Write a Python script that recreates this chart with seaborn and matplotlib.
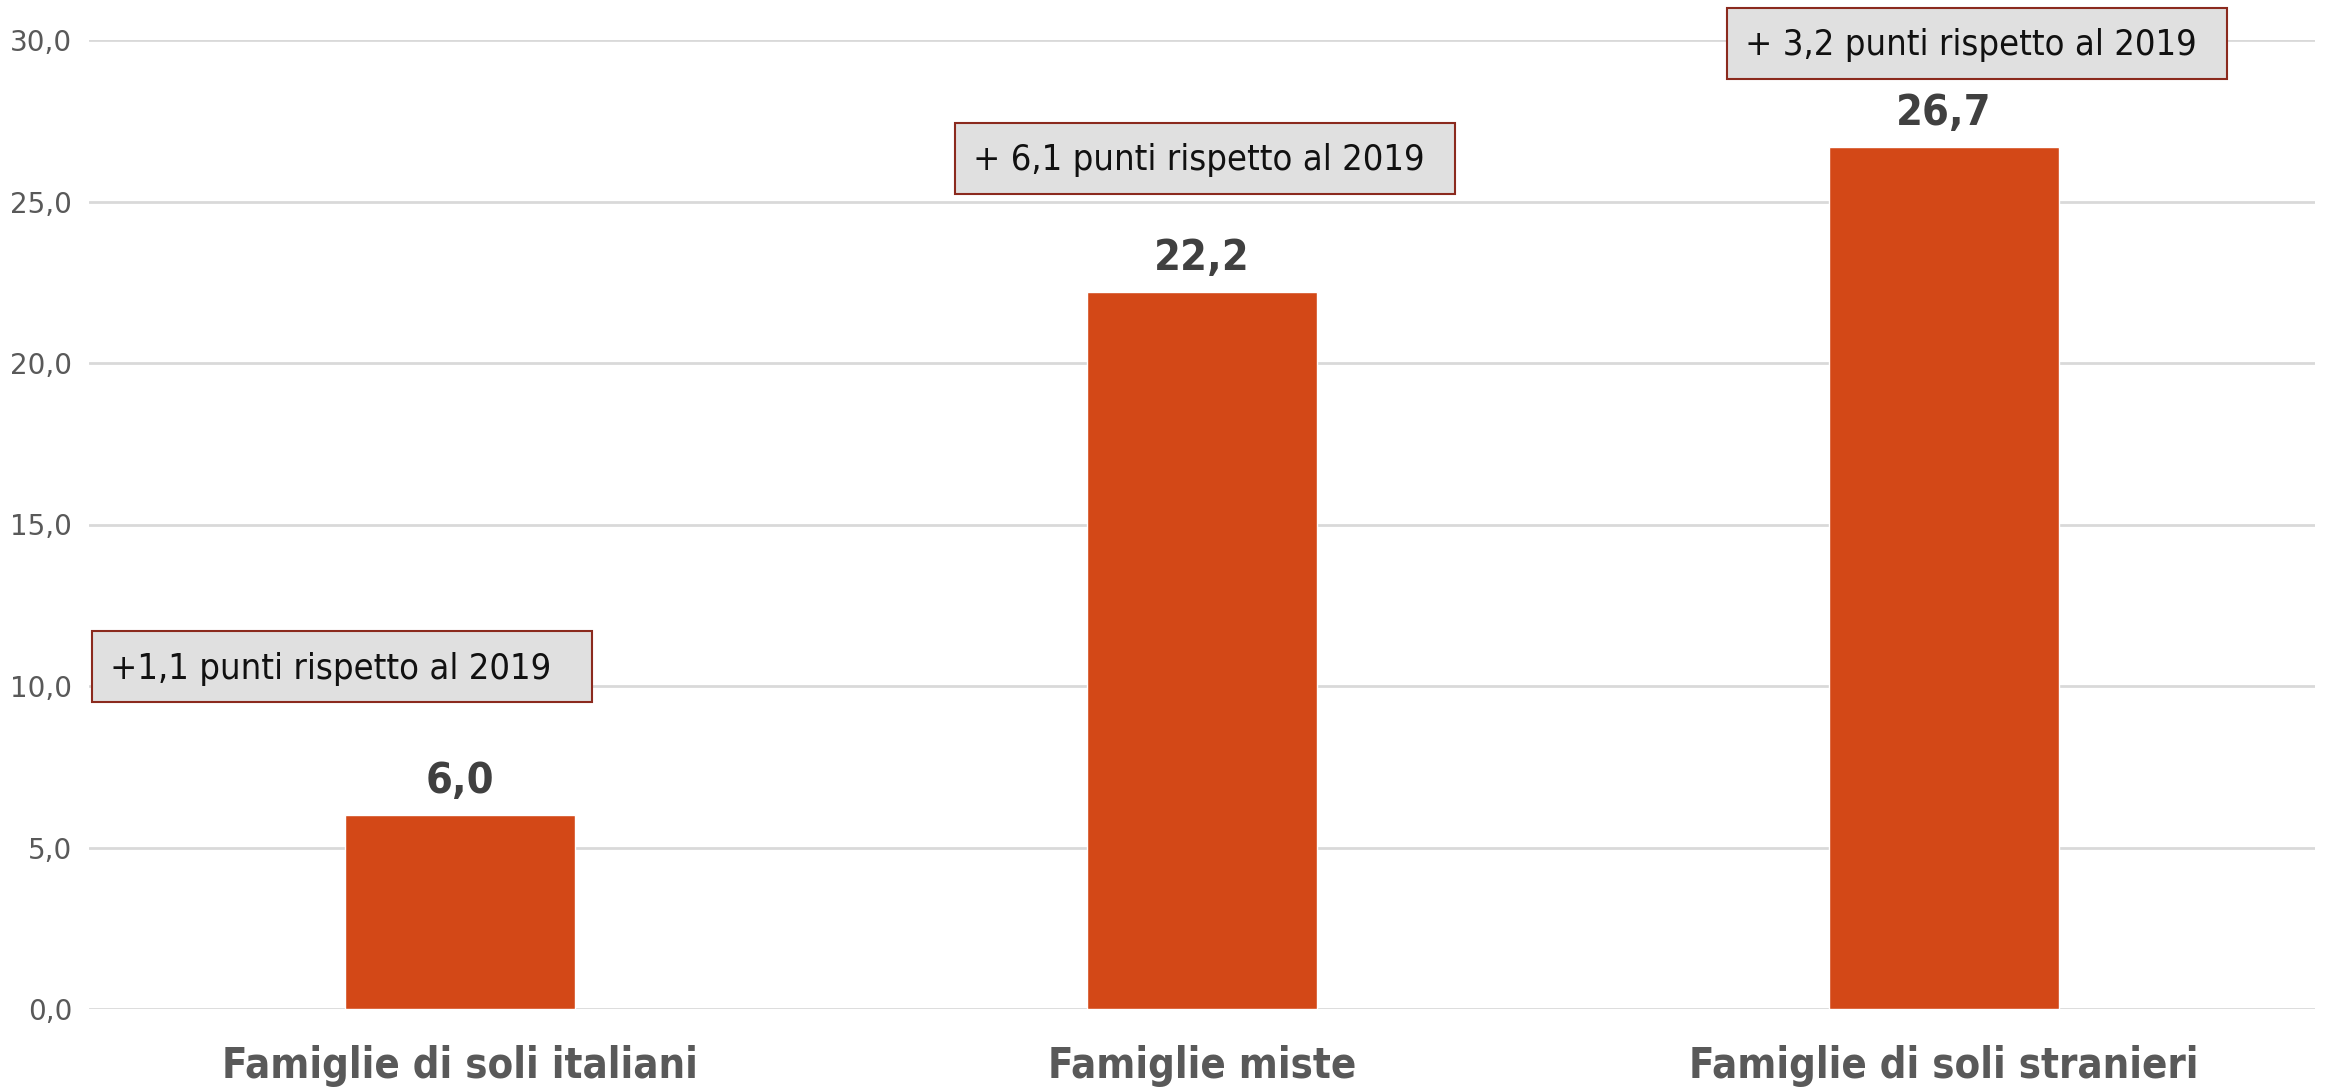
import matplotlib
matplotlib.use("Agg")
import matplotlib.pyplot as plt
import pandas as pd
import seaborn as sns
from matplotlib.patches import Rectangle
from matplotlib.ticker import FuncFormatter

# data
categories = ["Famiglie di soli italiani", "Famiglie miste", "Famiglie di soli stranieri"]
values = [6.0, 22.2, 26.7]
notes = ["+1,1 punti rispetto al 2019", "+ 6,1 punti rispetto al 2019", "+ 3,2 punti rispetto al 2019"]

# lower-left corner of each note box (data coords)
note_box = [(-0.496, 9.5), (0.667, 25.23), (1.708, 28.79)]
box_w, box_h = 0.674, 2.2

df = pd.DataFrame({"categoria": categories, "valore": values})

sns.set_style("white")
plt.rcParams["font.family"] = ["DejaVu Sans"]

fig = plt.figure(figsize=(23.28, 10.89), dpi=100)
ax = fig.add_axes([89 / 2328, 1 - 1009 / 1089, 2226 / 2328, 969 / 1089])

sns.barplot(data=df, x="categoria", y="valore", color="#D34817",
            width=0.31, saturation=1, ax=ax, zorder=3)

ax.set_ylim(0, 30)
ax.set_xlim(-0.5, 2.5)
ax.set_yticks(range(0, 31, 5))
ax.yaxis.set_major_formatter(FuncFormatter(lambda v, p: f"{v:.1f}".replace(".", ",")))
ax.grid(axis="y", color="#D9D9D9", linewidth=2, zorder=0)
ax.set_axisbelow(True)
for s in ax.spines.values():
    s.set_visible(False)
ax.tick_params(axis="y", labelsize=20, labelcolor="#595959", length=0, pad=12)
ax.tick_params(axis="x", labelsize=30, labelcolor="#595959", length=0, pad=26)
for lbl in ax.get_xticklabels():
    lbl.set_fontweight("bold")
    lbl.set_fontstretch("condensed")
ax.set_xlabel("")
ax.set_ylabel("")

# value labels
for i, v in enumerate(values):
    ax.text(i, v + 0.4, f"{v:.1f}".replace(".", ","), ha="center", va="bottom",
            fontsize=31, fontweight="bold", fontstretch="condensed", color="#404040")

# annotation boxes
for (x0, y0), txt in zip(note_box, notes):
    ax.add_patch(Rectangle((x0, y0), box_w, box_h, facecolor="#E0E0E0",
                           edgecolor="#8B2A1E", linewidth=1.5, zorder=5, clip_on=False))
    ax.text(x0 + 0.024, y0 + box_h / 2 + 0.05, txt, ha="left", va="center_baseline",
            fontsize=26, fontstretch="condensed", color="#111111", zorder=6)

fig.savefig("out.png", dpi=100)
